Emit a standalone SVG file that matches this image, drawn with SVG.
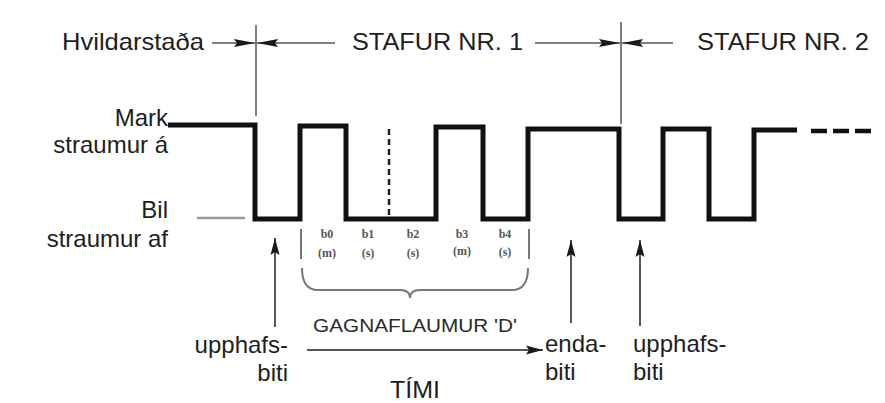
<svg xmlns="http://www.w3.org/2000/svg" width="885" height="403" viewBox="0 0 885 403">
  <defs>
    <style>
      .lbl { font-family: "Liberation Sans", Arial, sans-serif; font-size: 24px; fill: #1e1e1e; }
      .mid { font-family: "Liberation Sans", Arial, sans-serif; font-size: 18px; fill: #2a2a2a; }
      .bit { font-family: "Liberation Serif", "Times New Roman", serif; font-size: 12px; font-weight: bold; fill: #555; text-anchor: middle; }
      .thin { stroke: #555; stroke-width: 1.5; fill: none; }
      .gray { stroke: #777; stroke-width: 2; fill: none; }
      .wave { stroke: #111; stroke-width: 5; fill: none; stroke-linejoin: miter; }
      .arr { stroke: #555; stroke-width: 2; fill: none; }
    </style>
    <marker id="tipLong" markerUnits="userSpaceOnUse" markerWidth="22" markerHeight="10" refX="21" refY="5" orient="auto">
      <path d="M0,1 L21,5 L0,9 L3,5 Z" fill="#1a1a1a"/>
    </marker>
    <marker id="tip" markerUnits="userSpaceOnUse" markerWidth="18" markerHeight="12" refX="17" refY="6" orient="auto">
      <path d="M0,1.5 L17,6 L0,10.5 L3,6 Z" fill="#1a1a1a"/>
    </marker>
  </defs>
  <rect width="885" height="403" fill="#ffffff"/>

  <g id="header">
    <text class="lbl" x="62" y="50" textLength="142" lengthAdjust="spacingAndGlyphs">Hvildarstaða</text>
    <text class="lbl" x="352" y="50" textLength="171" lengthAdjust="spacingAndGlyphs">STAFUR NR. 1</text>
    <text class="lbl" x="697" y="50" textLength="172" lengthAdjust="spacingAndGlyphs">STAFUR NR. 2</text>
  </g>

  <g id="levels">
    <text class="lbl" x="168" y="126" text-anchor="end">Mark</text>
    <text class="lbl" x="168" y="153" text-anchor="end">straumur á</text>
    <text class="lbl" x="168" y="218" text-anchor="end">Bil</text>
    <text class="lbl" x="168" y="247" text-anchor="end">straumur af</text>
    <line x1="197" y1="218" x2="245" y2="218" stroke="#999" stroke-width="2.5"/>
  </g>

  <g id="connectors">
    <line class="thin" x1="256" y1="25" x2="256" y2="116"/>
    <line class="thin" x1="621" y1="22" x2="621" y2="124"/>
    <line class="thin" x1="212" y1="43" x2="255" y2="43" marker-end="url(#tipLong)"/>
    <line class="thin" x1="335" y1="43" x2="257" y2="43" marker-end="url(#tipLong)"/>
    <line class="thin" x1="535" y1="43" x2="620" y2="43" marker-end="url(#tipLong)"/>
    <line class="thin" x1="673" y1="43" x2="622" y2="43" marker-end="url(#tipLong)"/>
    <line class="arr" x1="275" y1="327" x2="275" y2="238" marker-end="url(#tip)"/>
    <line class="arr" x1="571" y1="323" x2="571" y2="240" marker-end="url(#tip)"/>
    <line class="arr" x1="640" y1="326" x2="640" y2="240" marker-end="url(#tip)"/>
    <line class="arr" x1="307" y1="350" x2="543" y2="350" marker-end="url(#tip)"/>
  </g>

  <g id="waveform">
    <polyline class="wave" points="168,125 255,125 255,219 300,219 300,126 346,126 346,219 436,219 436,127 483,127 483,219 528,219 528,129 619,129 619,219 663,219 663,129 709,129 709,219 754,219 754,130 797,130"/>
    <line x1="811" y1="131" x2="871" y2="131" stroke="#111" stroke-width="4.5" stroke-dasharray="16,6"/>
    <line x1="389" y1="129" x2="389" y2="217" stroke="#222" stroke-width="2.5" stroke-dasharray="6,4"/>
  </g>

  <g id="bits">
    <line class="gray" x1="301" y1="229" x2="301" y2="259"/>
    <line class="gray" x1="529" y1="229" x2="529" y2="259"/>
    <text class="bit" x="327" y="238">b0</text>
    <text class="bit" x="327" y="257">(m)</text>
    <text class="bit" x="368" y="238">b1</text>
    <text class="bit" x="368" y="257">(s)</text>
    <text class="bit" x="413" y="238">b2</text>
    <text class="bit" x="413" y="257">(s)</text>
    <text class="bit" x="462" y="238">b3</text>
    <text class="bit" x="462" y="255">(m)</text>
    <text class="bit" x="505" y="238">b4</text>
    <text class="bit" x="505" y="256">(s)</text>
    <path class="gray" d="M302,268 Q302,290 318,290 L400,290 Q410,290 410,298 Q410,290 420,290 L512,290 Q528,290 528,268"/>
  </g>

  <g id="bottom-labels">
    <text class="mid" x="313" y="332" textLength="204" lengthAdjust="spacingAndGlyphs">GAGNAFLAUMUR 'D'</text>
    <text class="lbl" x="288" y="353" text-anchor="end">upphafs-</text>
    <text class="lbl" x="288" y="381" text-anchor="end">biti</text>
    <text class="lbl" x="545" y="352">enda-</text>
    <text class="lbl" x="545" y="380">biti</text>
    <text class="lbl" x="633" y="352">upphafs-</text>
    <text class="lbl" x="633" y="380">biti</text>
    <text class="lbl" x="390" y="398" textLength="50" lengthAdjust="spacingAndGlyphs">TÍMI</text>
  </g>
</svg>
